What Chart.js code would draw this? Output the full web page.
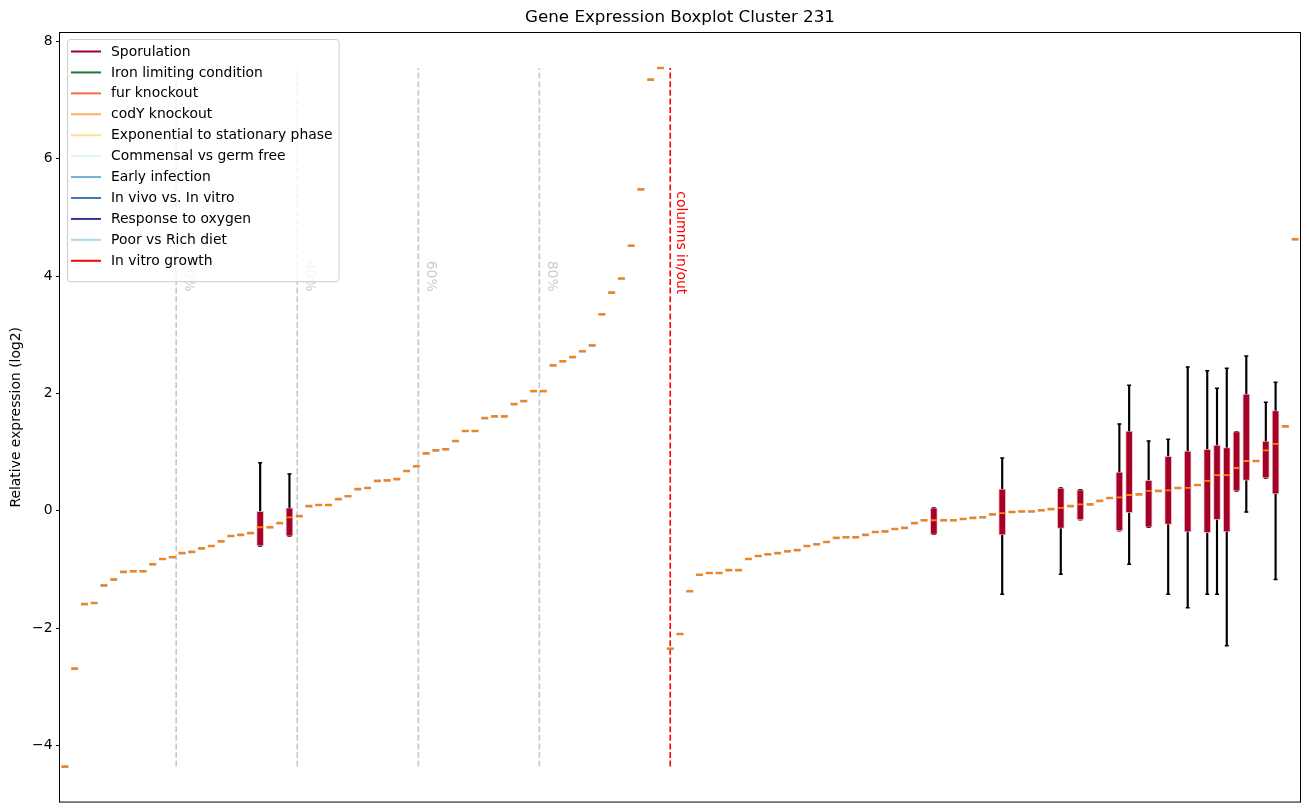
<!DOCTYPE html>
<html>
<head>
<meta charset="utf-8">
<script src="https://cdn.jsdelivr.net/npm/chart.js@4.4.1/dist/chart.umd.min.js"></script>
<style>
  html, body { margin: 0; padding: 0; background: #fff; }
</style>
</head>
<body>
<canvas id="boxChart" width="1309" height="812"></canvas>
<script>
// median of every column, left to right (1..62 "in", 63..127 "out")
const medians = [
  -4.36, -2.69, -1.59, -1.57, -1.27, -1.17, -1.04, -1.03, -1.03, -0.91,
  -0.82, -0.79, -0.72, -0.70, -0.64, -0.60, -0.52, -0.43, -0.41, -0.38,
  -0.28, -0.28, -0.21, -0.11, -0.09, 0.08, 0.10, 0.10, 0.20, 0.25,
  0.37, 0.39, 0.51, 0.52, 0.54, 0.68, 0.76, 0.98, 1.03, 1.05,
  1.19, 1.36, 1.36, 1.58, 1.61, 1.61, 1.82, 1.87, 2.04, 2.04,
  2.48, 2.55, 2.62, 2.72, 2.82, 3.35, 3.72, 3.96, 4.52, 5.48,
  7.35, 7.55,
  -2.35, -2.10, -1.37, -1.09, -1.06, -1.06, -1.01, -1.01, -0.82, -0.77,
  -0.74, -0.72, -0.69, -0.67, -0.60, -0.57, -0.53, -0.46, -0.45, -0.45,
  -0.41, -0.36, -0.35, -0.31, -0.29, -0.21, -0.16, -0.16, -0.16, -0.16,
  -0.14, -0.12, -0.11, -0.06, -0.04, -0.02, -0.01, -0.01, 0.01, 0.03,
  0.05, 0.08, 0.11, 0.11, 0.17, 0.22, 0.23, 0.27, 0.28, 0.34,
  0.34, 0.35, 0.39, 0.39, 0.44, 0.51, 0.61, 0.61, 0.73, 0.85,
  0.85, 1.03, 1.14, 1.44, 4.63
];

// columns that have a real box (more than one value)
const boxColumns = [21, 24, 90, 97, 103, 105, 109, 110, 112, 114, 116, 118, 119, 120, 121, 122, 124, 125];
const boxQ1 = [-0.60, -0.43, -0.40, -0.41, -0.30, -0.15, -0.34, -0.03, -0.28, -0.23, -0.36, -0.37, -0.15, -0.36, 0.34, 0.52, 0.56, 0.29];
const boxQ3 = [0.00, 0.05, 0.05, 0.37, 0.39, 0.36, 0.66, 1.36, 0.52, 0.93, 1.02, 1.05, 1.12, 1.08, 1.35, 1.99, 1.19, 1.71];
const whiskerLow = [-0.60, -0.43, -0.40, -1.42, -1.08, -0.15, -0.34, -0.91, -0.28, -1.42, -1.65, -1.42, -1.42, -2.30, 0.34, -0.02, 0.56, -1.17];
const whiskerHigh = [0.82, 0.63, 0.05, 0.90, 0.39, 0.36, 1.48, 2.14, 1.19, 1.22, 2.45, 2.39, 2.09, 2.43, 1.35, 2.64, 1.85, 2.19];

const yTicks = [-4, -2, 0, 2, 4, 6, 8];
const percentLines = [12.4, 24.8, 37.2, 49.6];
const percentLabels = ["20%", "40%", "60%", "80%"];
const splitColumn = 63;

const legendLabels = [
  "Sporulation",
  "Iron limiting condition",
  "fur knockout",
  "codY knockout",
  "Exponential to stationary phase",
  "Commensal vs germ free",
  "Early infection",
  "In vivo vs. In vitro",
  "Response to oxygen",
  "Poor vs Rich diet",
  "In vitro growth",
];
const legendColors = [
  "#a50026", "#1b7837", "#f46d43", "#fdae61", "#fee090", "#e0f3f8",
  "#74add1", "#4575b4", "#313695", "#abd9e9", "#ff0000",
];

const FONT = "'DejaVu Sans', sans-serif";

// build datasets from the arrays
const nCols = medians.length;
const dataMin = Math.min(...medians, ...whiskerLow);
const dataMax = Math.max(...medians, ...whiskerHigh);
const span = dataMax - dataMin;

const singleCols = [];
medians.forEach((m, i) => {
  if (!boxColumns.includes(i + 1)) singleCols.push({ x: i + 1, y: m });
});
const medianPts = medians.map((m, i) => ({ x: i + 1, y: m }));
const boxData = boxColumns.map((c, i) => ({ x: c, y: [boxQ1[i], boxQ3[i]] }));
const whiskerData = boxColumns.map((c, i) => ({ x: c, y: [whiskerLow[i], whiskerHigh[i]] }));
const capData = [];
boxColumns.forEach((c, i) => {
  capData.push({ x: c, y: whiskerLow[i] });
  capData.push({ x: c, y: whiskerHigh[i] });
});

function vline(xv, color) {
  return {
    type: "line",
    data: [{ x: xv, y: dataMin }, { x: xv, y: dataMax }],
    borderColor: color,
    borderWidth: 1.6,
    borderDash: [6, 2.6],
    pointRadius: 0,
    order: 10,
  };
}

function drawVertText(ctx, text, px, py, color) {
  ctx.save();
  ctx.translate(px, py);
  ctx.rotate(Math.PI / 2);
  ctx.fillStyle = color;
  ctx.fillText(text, 0, 0);
  ctx.restore();
}

const extras = {
  id: "extras",
  afterDatasetsDraw(chart) {
    const { ctx, scales: { x, y } } = chart;
    ctx.save();
    ctx.font = "13.9px " + FONT;
    ctx.textAlign = "center";
    ctx.textBaseline = "middle";
    percentLines.forEach((p, i) => {
      drawVertText(ctx, percentLabels[i], x.getPixelForValue(p) + 12, y.getPixelForValue(4), "#cccccc");
    });
    drawVertText(ctx, "columns in/out", x.getPixelForValue(splitColumn) + 10, y.getPixelForValue(4.57), "#ff0000");
    ctx.restore();
  },
  afterDraw(chart) {
    const { ctx, chartArea } = chart;
    ctx.save();
    // frame
    ctx.strokeStyle = "#000";
    ctx.lineWidth = 1;
    ctx.strokeRect(chartArea.left - 0.5, chartArea.top - 0.5, chartArea.right - chartArea.left + 1, chartArea.bottom - chartArea.top + 1);

    // title
    ctx.fillStyle = "#000";
    ctx.font = "16.7px " + FONT;
    ctx.textAlign = "center";
    ctx.textBaseline = "middle";
    ctx.fillText("Gene Expression Boxplot Cluster 231", (chartArea.left + chartArea.right) / 2, 18);

    // legend
    ctx.font = "13.9px " + FONT;
    const bx = chartArea.left + 7, by = 39;
    const rowH = 20.93;
    const textX = bx + 44;
    let maxW = 0;
    legendLabels.forEach((l) => { maxW = Math.max(maxW, ctx.measureText(l).width); });
    const bw = textX - bx + maxW + 6;
    const bh = rowH * legendLabels.length + 12;
    ctx.beginPath();
    ctx.roundRect(bx + 0.5, by + 0.5, bw, bh, 3);
    ctx.fillStyle = "rgba(255,255,255,0.8)";
    ctx.fill();
    ctx.strokeStyle = "#cccccc";
    ctx.lineWidth = 1;
    ctx.stroke();
    ctx.textAlign = "left";
    legendLabels.forEach((l, i) => {
      const ly = by + 12.5 + i * rowH;
      ctx.strokeStyle = legendColors[i];
      ctx.lineWidth = 2;
      ctx.beginPath();
      ctx.moveTo(bx + 4, ly);
      ctx.lineTo(bx + 34, ly);
      ctx.stroke();
      ctx.fillStyle = "#000";
      ctx.fillText(l, textX, ly + 0.5);
    });
    ctx.restore();
  },
};

const config = {
  type: "bar",
  data: {
    datasets: [
      {
        type: "bar",
        data: whiskerData,
        backgroundColor: "#000",
        borderWidth: 0,
        barThickness: 1.5,
        grouped: false,
        order: 5,
      },
      {
        type: "scatter",
        data: capData,
        pointStyle: "line",
        pointRadius: 2,
        borderColor: "#000",
        borderWidth: 1.5,
        order: 4,
      },
      {
        type: "bar",
        data: boxData,
        backgroundColor: "#a50026",
        borderColor: "rgba(235,170,185,0.8)",
        borderWidth: 1,
        borderSkipped: false,
        barThickness: 7,
        grouped: false,
        order: 3,
      },
      {
        type: "scatter",
        data: singleCols,
        pointStyle: "line",
        pointRadius: 3.5,
        borderColor: "rgba(170,140,115,0.85)",
        borderWidth: 2.6,
        order: 2,
      },
      {
        type: "scatter",
        data: medianPts,
        pointStyle: "line",
        pointRadius: 3.2,
        borderColor: "#ff7f0e",
        borderWidth: 1.8,
        order: 1,
      },
      ...percentLines.map((p) => vline(p, "#c8c8c8")),
      vline(splitColumn, "#ff0000"),
    ],
  },
  options: {
    responsive: false,
    animation: false,
    devicePixelRatio: 1,
    layout: { padding: { top: 33, right: 9, bottom: 10, left: 0 } },
    plugins: {
      legend: { display: false },
      tooltip: { enabled: false },
      title: { display: false },
    },
    scales: {
      x: {
        type: "linear",
        min: 0.5,
        max: nCols + 0.5,
        offset: false,
        display: false,
      },
      y: {
        type: "linear",
        min: dataMin - 0.05 * span,
        max: dataMax + 0.05 * span,
        afterFit: (s) => { s.width = 60; },
        afterBuildTicks: (s) => { s.ticks = yTicks.map((v) => ({ value: v })); },
        border: { display: false },
        grid: {
          display: true,
          drawOnChartArea: false,
          drawTicks: true,
          tickLength: 4,
          tickColor: "#000",
          tickWidth: 1,
        },
        ticks: {
          color: "#000",
          padding: 3.5,
          font: { family: FONT, size: 13.9, lineHeight: 1 },
          callback: (v) => String(v).replace("-", "\u2212"),
        },
        title: {
          display: true,
          text: "Relative expression (log2)",
          color: "#000",
          font: { family: FONT, size: 13.9 },
          padding: { top: 8, bottom: 0 },
        },
      },
    },
  },
  plugins: [extras],
};

let myChart = new Chart(document.getElementById("boxChart"), config);
</script>
</body>
</html>
